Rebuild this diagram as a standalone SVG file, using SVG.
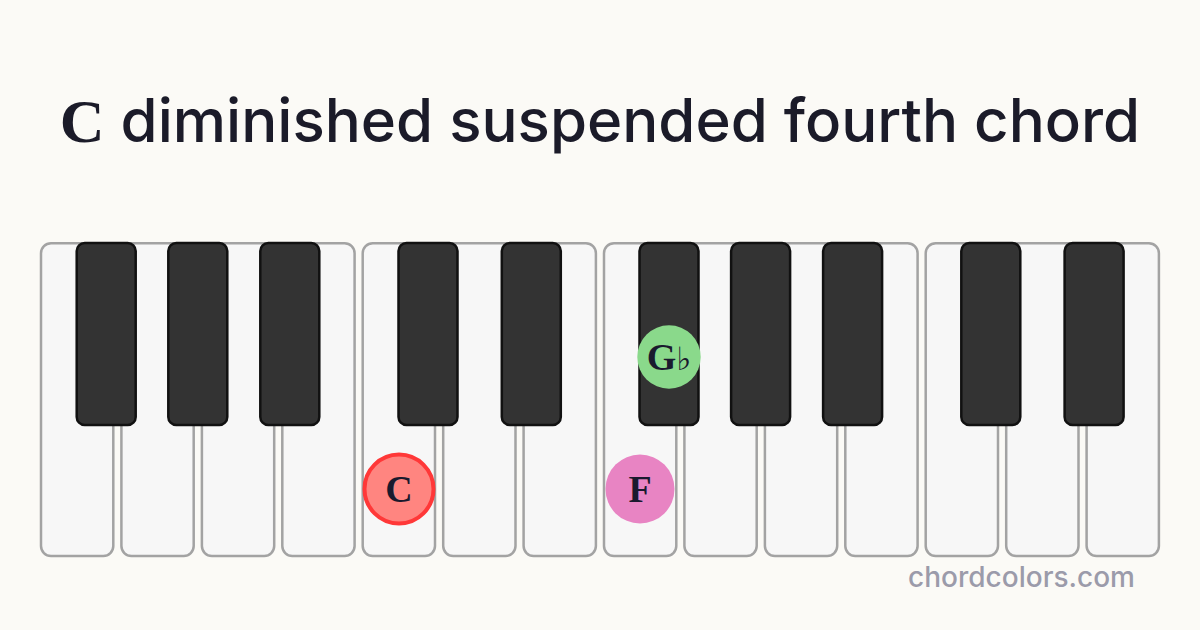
<svg xmlns="http://www.w3.org/2000/svg" width="1200" height="630" viewBox="0 0 1200 630">
<style>
.w{fill:#f7f7f7;stroke:#a3a3a3;stroke-width:2.5}
.b{fill:#333333;stroke:#111111;stroke-width:2.5}
.n{font-family:"Liberation Serif",serif;font-weight:bold;font-size:38px;fill:#1a1a2e;text-anchor:middle}
</style>
<rect width="1200" height="630" fill="#fbfaf6"/>
<text x="600" y="142" text-anchor="middle" font-family="Inter, 'Open Sans', sans-serif" font-size="60" font-weight="500" fill="#1b1b29"><tspan font-family="'Liberation Serif', serif" font-size="62" font-weight="bold">C</tspan> diminished suspended fourth chord</text>
<g id="white-keys">
<rect class="w" x="41" y="243.3" width="72.3" height="312.7" rx="10"/>
<rect class="w" x="121.4" y="243.3" width="72.3" height="312.7" rx="10"/>
<rect class="w" x="201.9" y="243.3" width="72.3" height="312.7" rx="10"/>
<rect class="w" x="282.3" y="243.3" width="72.3" height="312.7" rx="10"/>
<rect class="w" x="362.7" y="243.3" width="72.3" height="312.7" rx="10"/>
<rect class="w" x="443.2" y="243.3" width="72.3" height="312.7" rx="10"/>
<rect class="w" x="523.6" y="243.3" width="72.3" height="312.7" rx="10"/>
<rect class="w" x="604" y="243.3" width="72.3" height="312.7" rx="10"/>
<rect class="w" x="684.4" y="243.3" width="72.3" height="312.7" rx="10"/>
<rect class="w" x="764.9" y="243.3" width="72.3" height="312.7" rx="10"/>
<rect class="w" x="845.3" y="243.3" width="72.3" height="312.7" rx="10"/>
<rect class="w" x="925.7" y="243.3" width="72.3" height="312.7" rx="10"/>
<rect class="w" x="1006.2" y="243.3" width="72.3" height="312.7" rx="10"/>
<rect class="w" x="1086.6" y="243.3" width="72.3" height="312.7" rx="10"/>
</g>
<g id="black-keys">
<rect class="b" x="76.7" y="243" width="59" height="182" rx="8"/>
<rect class="b" x="168.3" y="243" width="59" height="182" rx="8"/>
<rect class="b" x="260.3" y="243" width="59" height="182" rx="8"/>
<rect class="b" x="398.5" y="243" width="59" height="182" rx="8"/>
<rect class="b" x="501.8" y="243" width="59" height="182" rx="8"/>
<rect class="b" x="639.5" y="243" width="59" height="182" rx="8"/>
<rect class="b" x="731.1" y="243" width="59" height="182" rx="8"/>
<rect class="b" x="823.1" y="243" width="59" height="182" rx="8"/>
<rect class="b" x="961.3" y="243" width="59" height="182" rx="8"/>
<rect class="b" x="1064.6" y="243" width="59" height="182" rx="8"/>
</g>
<g id="note-C">
<circle cx="399" cy="489" r="34.5" fill="#ff8580" stroke="#ff3838" stroke-width="4"/>
<text class="n" x="399" y="502">C</text>
</g>
<g id="note-F">
<circle cx="640" cy="489" r="34.5" fill="#e884c3"/>
<text class="n" x="640" y="502">F</text>
</g>
<g id="note-Gb">
<circle cx="669" cy="357" r="31.7" fill="#8ad98b"/>
<text class="n" x="669" y="370" font-size="33">G<tspan font-family="'DejaVu Serif', serif" font-weight="normal" font-size="32">♭</tspan></text>
</g>
<text x="1135" y="587" text-anchor="end" font-family="Inter, 'Open Sans', sans-serif" font-size="28" font-weight="500" fill="#9b9baa">chordcolors.com</text>
</svg>
